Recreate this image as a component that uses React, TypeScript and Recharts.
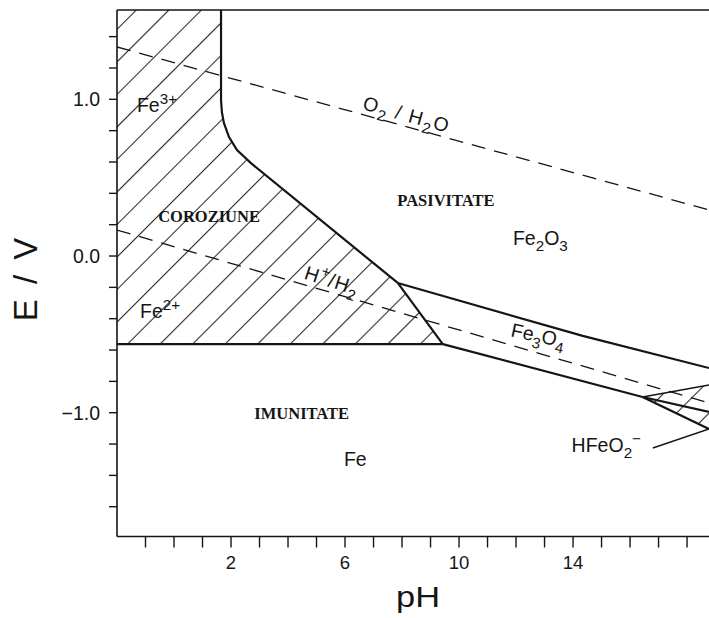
import { ComposedChart, Line, Area, Scatter, XAxis, YAxis, ReferenceLine } from 'recharts'

const PH_MIN = -2
const PH_MAX = 18.77
const E_MIN = -1.79
const E_MAX = 1.57

const PH_TICKS = [-1, 0, 1, 2, 3, 4, 5, 6, 7, 8, 9, 10, 11, 12, 13, 14, 15, 16, 17, 18]
const PH_LABELS = [2, 6, 10, 14]
const E_TICKS = [-1.6, -1.4, -1.2, -1.0, -0.8, -0.6, -0.4, -0.2, 0, 0.2, 0.4, 0.6, 0.8, 1.0, 1.2, 1.4]
const E_LABELS = [-1, 0, 1]

// dashed water lines
const O2_H2O = [{ ph: -2, e: 1.334 }, { ph: 18.77, e: 0.294 }]
const H_H2 = [{ ph: -2, e: 0.166 }, { ph: 18.77, e: -0.938 }]

// solid boundaries
const FE3_FE2O3 = [
  { ph: 1.65, e: 1.57 },
  { ph: 1.65, e: 0.995 },
  { ph: 1.68, e: 0.919 },
  { ph: 1.75, e: 0.849 },
  { ph: 1.93, e: 0.759 },
  { ph: 2.21, e: 0.676 },
  { ph: 2.7, e: 0.593 },
  { ph: 7.85, e: -0.172 },
]
const FE2_FE3O4 = [{ ph: 7.85, e: -0.172 }, { ph: 9.43, e: -0.562 }]
const FE2_FE = [{ ph: -2, e: -0.562 }, { ph: 9.43, e: -0.562 }]
const FE2O3_FE3O4 = [{ ph: 7.85, e: -0.172 }, { ph: 14.34, e: -0.51 }, { ph: 18.77, e: -0.715 }]
const FE3O4_FE = [{ ph: 9.43, e: -0.562 }, { ph: 16.44, e: -0.9 }]
const HFEO2_UP = [{ ph: 16.44, e: -0.9 }, { ph: 18.77, e: -0.823 }]
const HFEO2_MID = [{ ph: 16.44, e: -0.9 }, { ph: 18.77, e: -0.995 }]
const HFEO2_LOW = [{ ph: 16.44, e: -0.9 }, { ph: 18.77, e: -1.104 }]
const LEADER = [{ ph: 16.8, e: -1.225 }, { ph: 18.77, e: -1.104 }]

// hatched regions, [low, high]
const CORROSION = [
  { ph: -2, r: [-0.562, 1.57] },
  { ph: 1.65, r: [-0.562, 1.57] },
  { ph: 1.65, r: [-0.562, 0.995] },
  { ph: 1.68, r: [-0.562, 0.919] },
  { ph: 1.75, r: [-0.562, 0.849] },
  { ph: 1.93, r: [-0.562, 0.759] },
  { ph: 2.21, r: [-0.562, 0.676] },
  { ph: 2.7, r: [-0.562, 0.593] },
  { ph: 7.85, r: [-0.562, -0.172] },
  { ph: 9.43, r: [-0.562, -0.562] },
]
const HFEO2 = [
  { ph: 16.44, r: [-0.9, -0.9] },
  { ph: 18.77, r: [-1.104, -0.823] },
]

type Part = [string, ('sub' | 'sup')?]
type Lab = { ph: number; e: number; parts: Part[]; bold?: boolean; anchor?: string; rot?: number; ls?: number }

const LABELS: Lab[] = [
  { ph: -1.3, e: 0.921, parts: [['Fe'], ['3+', 'sup']], anchor: 'start' },
  { ph: -1.19, e: -0.396, parts: [['Fe'], ['2+', 'sup']], anchor: 'start' },
  { ph: 1.23, e: 0.219, parts: [['COROZIUNE']], bold: true },
  { ph: 9.54, e: 0.319, parts: [['PASIVITATE']], bold: true },
  { ph: 11.89, e: 0.07, parts: [['Fe'], ['2', 'sub'], ['O'], ['3', 'sub']], anchor: 'start' },
  { ph: 4.48, e: -1.042, parts: [['IMUNITATE']], bold: true },
  { ph: 5.96, e: -1.34, parts: [['Fe']], anchor: 'start' },
  { ph: 13.95, e: -1.249, parts: [['HFeO'], ['2', 'sub'], ['\u2212', 'sup']], anchor: 'start' },
  { ph: 12.73, e: -0.549, parts: [['Fe'], ['3', 'sub'], ['O'], ['4', 'sub']], rot: 12 },
  { ph: 8.1, e: 0.861, parts: [['O'], ['2', 'sub'], [' / H'], ['2', 'sub'], ['O']], rot: 15.5, ls: 1.5 },
  { ph: 5.47, e: -0.198, parts: [['H'], ['+', 'sup'], ['/H'], ['2', 'sub']], rot: 18, ls: 1 },
]

const INK = '#151515'
const SANS = '"Liberation Sans", Arial, sans-serif'
const SERIF = '"Liberation Serif", "Times New Roman", serif'

function Rich({ parts, size }: { parts: Part[]; size: number }) {
  let shift = 0
  return (
    <>
      {parts.map(([t, k], i) => {
        const target = k === 'sub' ? size * 0.32 : k === 'sup' ? -size * 0.42 : 0
        const dy = target - shift
        shift = target
        return (
          <tspan key={i} dy={dy} fontSize={k ? size * 0.78 : size}>
            {t}
          </tspan>
        )
      })}
    </>
  )
}

function LabelMark(props: any) {
  const { cx, cy, payload } = props
  const l: Lab = payload
  if (cx == null || cy == null) return null
  const size = l.bold ? 16.5 : 19.5
  return (
    <text
      x={cx}
      y={cy}
      textAnchor={l.anchor || 'middle'}
      fontFamily={l.bold ? SERIF : SANS}
      fontWeight={l.bold ? 'bold' : 'normal'}
      fontSize={size}
      letterSpacing={l.ls || 0}
      fill={INK}
      transform={l.rot ? `rotate(${l.rot} ${cx} ${cy})` : undefined}
    >
      <Rich parts={l.parts} size={size} />
    </text>
  )
}

function PhTick(props: any) {
  const { x, y, payload } = props
  if (!PH_LABELS.includes(payload.value)) return null
  return (
    <text x={x} y={y} dy="0.71em" textAnchor="middle" fontFamily={SANS} fontSize={18.5} fill={INK}>
      {payload.value}
    </text>
  )
}

function ETick(props: any) {
  const { x, y, payload } = props
  const v = Math.round(payload.value * 10) / 10
  if (!E_LABELS.includes(v)) return null
  const s = (v < 0 ? '\u2212' : '') + Math.abs(v).toFixed(1)
  return (
    <text x={x} y={y} dy="0.355em" textAnchor="end" fontFamily={SANS} fontSize={19.5} fill={INK}>
      {s}
    </text>
  )
}

const solid = { stroke: INK, strokeWidth: 2.2, dot: false, isAnimationActive: false, type: 'linear' as const, dataKey: 'e' }
const dashed = { stroke: INK, strokeWidth: 1.3, strokeDasharray: '14 9', dot: false, isAnimationActive: false, type: 'linear' as const, dataKey: 'e' }

export default function App() {
  return (
    <div style={{ width: 709, height: 618, position: 'relative', background: '#fff' }}>
      <style>{'body{margin:0;overflow:hidden;background:#fff}'}</style>
      <svg width={0} height={0} style={{ position: 'absolute' }}>
        <defs>
          <pattern id="hatch" patternUnits="userSpaceOnUse" width={23} height={23} patternTransform="rotate(45)">
            <line x1={11.5} y1={0} x2={11.5} y2={23} stroke="#2a2a2a" strokeWidth={1.1} />
          </pattern>
        </defs>
      </svg>
      <ComposedChart width={709} height={618} margin={{ top: 10, right: 0, bottom: 41.5, left: 57 }}>
        <XAxis
          type="number"
          dataKey="ph"
          domain={[PH_MIN, PH_MAX]}
          ticks={PH_TICKS}
          allowDataOverflow
          interval={0}
          height={40}
          tickSize={11}
          tickMargin={8}
          tick={<PhTick />}
          axisLine={{ stroke: INK, strokeWidth: 1.6 }}
          tickLine={{ stroke: INK, strokeWidth: 1.4 }}
          label={{
            content: (p: any) => (
              <text
                x={p.viewBox.x + 301}
                y={p.viewBox.y + 70}
                textAnchor="middle"
                fontFamily={SANS}
                fontSize={29}
                fill={INK}
                textLength={44}
                lengthAdjust="spacingAndGlyphs"
              >
                pH
              </text>
            ),
          }}
        />
        <YAxis
          type="number"
          domain={[E_MIN, E_MAX]}
          ticks={E_TICKS}
          allowDataOverflow
          interval={0}
          width={60}
          tickSize={8}
          tickMargin={9}
          tick={<ETick />}
          axisLine={{ stroke: INK, strokeWidth: 1.6 }}
          tickLine={{ stroke: INK, strokeWidth: 1.4 }}
          label={{
            content: (p: any) => {
              const cx = p.viewBox.x - 32
              const cy = p.viewBox.y + 268
              return (
                <text
                  x={cx}
                  y={cy}
                  textAnchor="middle"
                  dominantBaseline="central"
                  fontFamily={SANS}
                  fontSize={33}
                  letterSpacing={3}
                  fill={INK}
                  transform={`rotate(-90 ${cx} ${cy})`}
                >
                  E / V
                </text>
              )
            },
          }}
        />
        <ReferenceLine y={E_MAX} stroke={INK} strokeWidth={1.6} ifOverflow="visible" />

        <Area data={CORROSION} dataKey="r" type="linear" stroke="none" fill="url(#hatch)" fillOpacity={1} isAnimationActive={false} />
        <Area data={HFEO2} dataKey="r" type="linear" stroke="none" fill="url(#hatch)" fillOpacity={1} isAnimationActive={false} />

        <Line data={O2_H2O} {...dashed} />
        <Line data={H_H2} {...dashed} />

        <Line data={FE3_FE2O3} {...solid} />
        <Line data={FE2_FE3O4} {...solid} />
        <Line data={FE2_FE} {...solid} />
        <Line data={FE2O3_FE3O4} {...solid} />
        <Line data={FE3O4_FE} {...solid} />
        <Line data={HFEO2_UP} {...solid} strokeWidth={1.6} />
        <Line data={HFEO2_MID} {...solid} />
        <Line data={HFEO2_LOW} {...solid} />
        <Line data={LEADER} {...solid} strokeWidth={1.4} />

        <Scatter data={LABELS} dataKey="e" shape={(p: any) => <LabelMark {...p} />} isAnimationActive={false} />
      </ComposedChart>
    </div>
  )
}
